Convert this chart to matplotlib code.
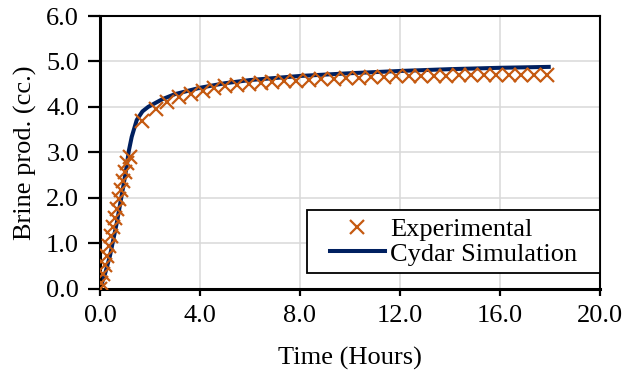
import matplotlib
matplotlib.use("Agg")
import matplotlib.pyplot as plt
from matplotlib.patches import Rectangle
from matplotlib.ticker import FormatStrFormatter

# Experimental brine production (cc.) vs time (hours)
exp_time = [0.0, 0.05, 0.12, 0.2, 0.28, 0.36, 0.44, 0.52, 0.6, 0.68, 0.76, 0.85,
            0.93, 1.02, 1.1, 1.19,
            1.7, 2.24, 2.7, 3.17, 3.64, 4.11, 4.55, 5.02, 5.49, 5.96, 6.43, 6.9,
            7.37, 7.85, 8.35, 8.85, 9.35, 9.85, 10.35, 10.85, 11.35, 11.85, 12.35,
            12.85, 13.35, 13.85, 14.35, 14.85, 15.35, 15.85, 16.35, 16.85, 17.35,
            17.9]
exp_brine = [0.0, 0.12, 0.32, 0.52, 0.72, 0.94, 1.15, 1.36, 1.56, 1.76, 1.96, 2.16,
             2.36, 2.56, 2.76, 2.9,
             3.69, 3.95, 4.1, 4.21, 4.29, 4.35, 4.42, 4.45, 4.48, 4.51, 4.52, 4.54,
             4.57, 4.58, 4.6, 4.61, 4.62, 4.63, 4.64, 4.65, 4.66, 4.67, 4.68, 4.68,
             4.69, 4.69, 4.7, 4.7, 4.7, 4.7, 4.7, 4.7, 4.7, 4.7]

# Cydar simulation
sim_time = [0.0, 0.2, 0.4, 0.67, 0.93, 1.07, 1.15, 1.27, 1.47, 1.7, 1.93, 2.5, 3.0,
            4.0, 5.0, 6.0, 8.0, 10.0, 12.0, 14.0, 16.0, 17.95]
sim_brine = [0.0, 0.32, 0.72, 1.44, 2.24, 2.7, 3.02, 3.34, 3.71, 3.9, 4.0, 4.17, 4.28,
             4.42, 4.52, 4.59, 4.68, 4.74, 4.79, 4.83, 4.86, 4.88]

x_ticks = [0, 4, 8, 12, 16, 20]
y_ticks = [0, 1, 2, 3, 4, 5, 6]

plt.rcParams['font.family'] = ['Liberation Serif', 'DejaVu Serif']
FS = 19

fig = plt.figure(figsize=(6.38, 3.76), dpi=100)
ax = fig.add_axes([0.1567, 0.2327, 0.7837, 0.7247])

ax.plot(exp_time, exp_brine, linestyle='none', marker='x', markersize=9.5,
        markeredgewidth=1.6, color='#C55A11', label='Experimental', zorder=3)
ax.plot(sim_time, sim_brine, color='#002060', linewidth=2.9,
        label='Cydar Simulation', zorder=2)

ax.set_xlim(0, 20)
ax.set_ylim(0, 6)
ax.set_xticks(x_ticks)
ax.set_yticks(y_ticks)
ax.xaxis.set_major_formatter(FormatStrFormatter('%.1f'))
ax.yaxis.set_major_formatter(FormatStrFormatter('%.1f'))
ax.grid(True, color='#d9d9d9', linewidth=1.1)
ax.set_axisbelow(True)
for side, s in ax.spines.items():
    s.set_color('black')
    s.set_linewidth(2.2 if side in ('left', 'bottom') else 1.5)
ax.tick_params(axis='x', direction='out', length=5, width=1.6, labelsize=FS, pad=7)
ax.tick_params(axis='y', direction='out', length=9, width=1.6, labelsize=FS, pad=6)

ax.set_xlabel('Time (Hours)', fontsize=FS, va='center')
ax.set_ylabel('Brine prod. (cc.)', fontsize=FS, va='center')
ax.xaxis.set_label_coords(0.5, -0.255)
ax.yaxis.set_label_coords(-0.15, 0.5)

# legend frame drawn separately (Excel-style wide padding)
ax.add_patch(Rectangle((0.414, 0.058), 0.586, 0.229, transform=ax.transAxes,
                       facecolor='white', edgecolor='black', linewidth=1.3,
                       zorder=4.5, clip_on=False))
leg = ax.legend(loc='center', bbox_to_anchor=(0.707, 0.1725), fontsize=FS,
                frameon=False, handlelength=2.1, borderpad=0, labelspacing=0.05,
                handletextpad=0.2)
leg.set_zorder(5)

fig.savefig('out.png', dpi=100)
